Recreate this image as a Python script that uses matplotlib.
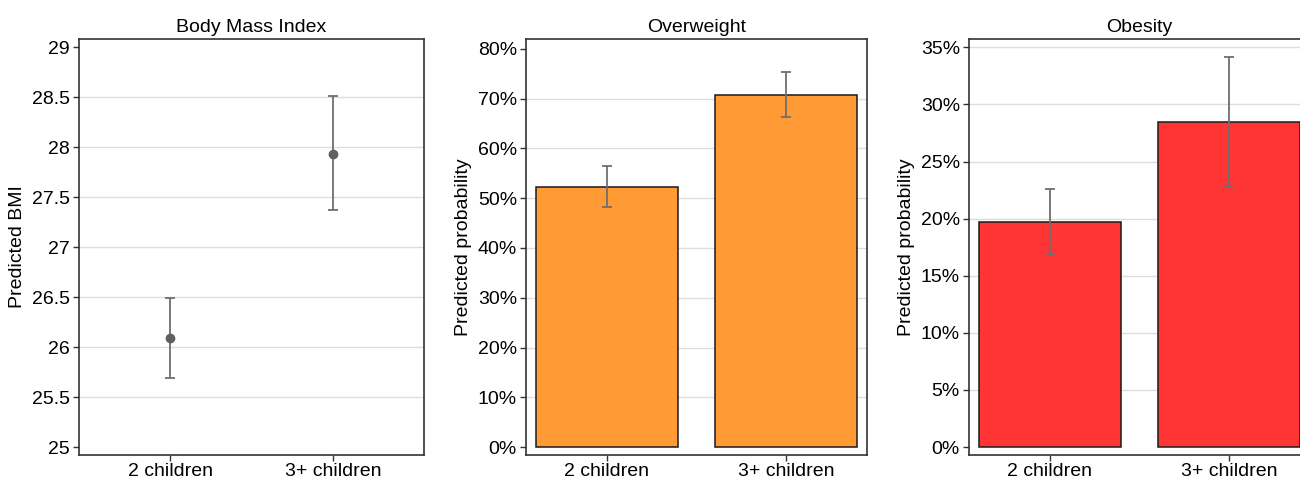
import matplotlib
matplotlib.use("Agg")
import matplotlib.pyplot as plt
from matplotlib.ticker import FuncFormatter

plt.rcParams['font.family'] = ['Liberation Sans', 'DejaVu Sans']

categories = ['2 children', '3+ children']

# Body Mass Index (points with 95% CI)
bmi = [26.09, 27.93]
bmi_lo = [25.69, 27.37]
bmi_hi = [26.49, 28.51]
bmi_ticks = [25, 25.5, 26, 26.5, 27, 27.5, 28, 28.5, 29]

# Overweight (predicted probability)
over = [0.523, 0.7075]
over_lo = [0.483, 0.663]
over_hi = [0.565, 0.754]
over_ticks = [0, 0.1, 0.2, 0.3, 0.4, 0.5, 0.6, 0.7, 0.8]

# Obesity (predicted probability)
obese = [0.1967, 0.2843]
obese_lo = [0.1687, 0.2288]
obese_hi = [0.2256, 0.3412]
obese_ticks = [0, 0.05, 0.10, 0.15, 0.20, 0.25, 0.30, 0.35]

W, H = 1300, 478
fig = plt.figure(figsize=(W / 100, H / 100), dpi=100)

frame_col = '#333333'
grid_col = '#dddddd'
err_col = '#6e6e6e'
fs = 14


def style(ax, ticks, grid_vals, fmt=None):
    for s in ax.spines.values():
        s.set_color(frame_col)
        s.set_linewidth(1.2)
    ax.set_yticks(ticks)
    if fmt:
        ax.yaxis.set_major_formatter(FuncFormatter(fmt))
    for g in grid_vals:
        ax.axhline(g, color=grid_col, lw=1, zorder=0)
    ax.set_xticks(range(len(categories)))
    ax.set_xticklabels(categories)
    ax.tick_params(labelsize=fs, length=4.5, width=1, color=frame_col, pad=2)
    ax.tick_params(axis='x', pad=1)


def pct(v, _):
    return f"{v * 100:.0f}%"


def box(l, t, r, b):
    return [l / W, 1 - b / H, (r - l) / W, (b - t) / H]


# panel 1
ax1 = fig.add_axes(box(79, 39, 424, 455))
yerr = [[b - l for b, l in zip(bmi, bmi_lo)], [h - b for b, h in zip(bmi, bmi_hi)]]
ax1.errorbar(range(2), bmi, yerr=yerr, fmt='o', color='#606060', ms=6,
             ecolor=err_col, elinewidth=1.3, capsize=3.5, capthick=1.3, zorder=3)
ax1.set_xlim(-0.56, 1.56)
ax1.set_ylim(24.92, 29.08)
style(ax1, bmi_ticks, bmi_ticks[1:-1], lambda v, _: f"{v:g}")
ax1.set_ylabel('Predicted BMI', fontsize=fs, labelpad=4)
ax1.set_title('Body Mass Index', fontsize=fs, pad=5)

# panel 2
ax2 = fig.add_axes(box(526, 39, 867, 455))
yerr = [[b - l for b, l in zip(over, over_lo)], [h - b for b, h in zip(over, over_hi)]]
ax2.bar(range(2), over, width=0.79, color='#ff9a35', edgecolor='#1a1a1a', lw=1.1, zorder=2)
ax2.errorbar(range(2), over, yerr=yerr, fmt='none', ecolor=err_col,
             elinewidth=1.3, capsize=3.5, capthick=1.3, zorder=3)
ax2.set_xlim(-0.45, 1.45)
ax2.set_ylim(-0.016, 0.82)
style(ax2, over_ticks, over_ticks[1:-1], pct)
ax2.set_ylabel('Predicted probability', fontsize=fs, labelpad=4)
ax2.set_title('Overweight', fontsize=fs, pad=5)

# panel 3 (runs past the right edge, as in the original)
ax3 = fig.add_axes(box(969, 39, 1310, 455))
yerr = [[b - l for b, l in zip(obese, obese_lo)], [h - b for b, h in zip(obese, obese_hi)]]
ax3.bar(range(2), obese, width=0.79, color='#ff3535', edgecolor='#1a1a1a', lw=1.1, zorder=2)
ax3.errorbar(range(2), obese, yerr=yerr, fmt='none', ecolor=err_col,
             elinewidth=1.3, capsize=3.5, capthick=1.3, zorder=3)
ax3.set_xlim(-0.45, 1.45)
ax3.set_ylim(-0.007, 0.3573)
style(ax3, obese_ticks, obese_ticks[1:], pct)
ax3.set_ylabel('Predicted probability', fontsize=fs, labelpad=4)
ax3.set_title('Obesity', fontsize=fs, pad=5)

fig.savefig('out.png', dpi=100)
